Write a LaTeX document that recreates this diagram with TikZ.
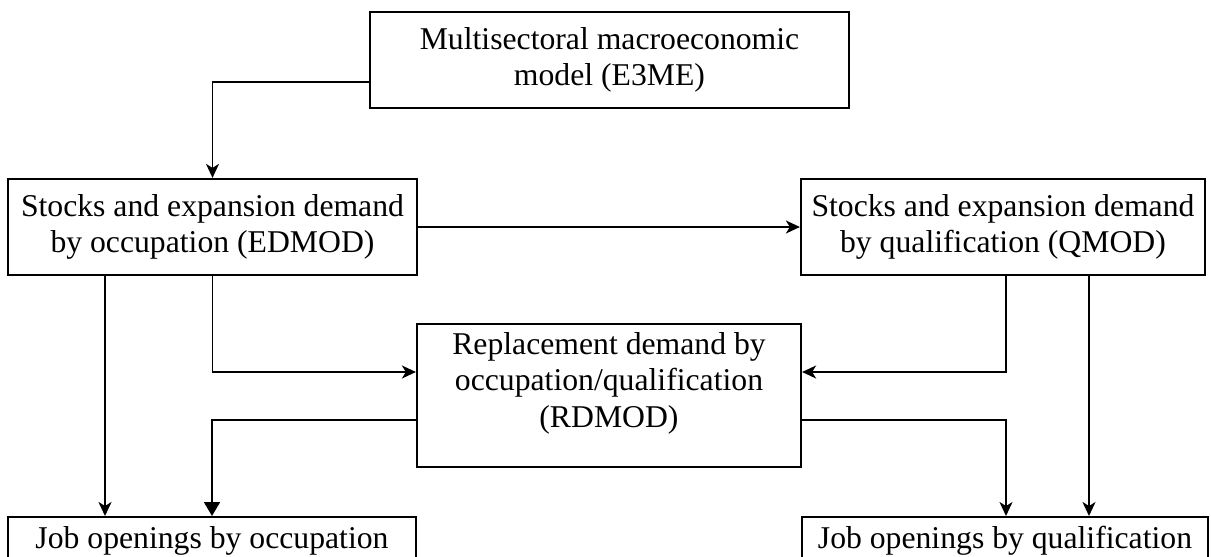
\documentclass[tikz,border=0pt]{standalone}
\usepackage{fontspec}
\setmainfont{Liberation Serif}
\usetikzlibrary{arrows.meta}
\begin{document}
\begin{tikzpicture}[x=1pt,y=-1pt,
  every node/.style={font=\fontsize{31.7}{36.5}\selectfont},
  box/.style={draw, line width=2.2pt, inner sep=0pt, align=center},
  label/.style={inner sep=0pt, align=center},
  link/.style={line width=1.8pt, -{Stealth[length=14pt,width=13pt,inset=4pt]}},
  heavylink/.style={line width=1.8pt, -{Triangle[length=14pt,width=16pt]}}]
\useasboundingbox (0,0) rectangle (1211,557);
\fill[white] (0,0) rectangle (1211,557);
\clip (0,0) rectangle (1211,557);

% model boxes
\node[box, minimum width=479pt, minimum height=96pt] (e3me) at (609.5,60)
  {Multisectoral macroeconomic\\model (E3ME)};
\node[box, minimum width=409pt, minimum height=96pt] (edmod) at (212.5,227)
  {Stocks and expansion demand\\by occupation (EDMOD)};
\node[box, minimum width=404pt, minimum height=96pt] (qmod) at (1003,227)
  {Stocks and expansion demand\\by qualification (QMOD)};
\node[box, minimum width=384pt, minimum height=143pt] (rd) at (609,395.5) {};
\node[label, anchor=base] (rdtext) at (609,427)
  {Replacement demand by\\occupation/qualification\\(RDMOD)};

% output boxes (run past the lower edge)
\node[box, anchor=north, minimum width=408pt, minimum height=90pt] (jo) at (212,516) {};
\node[label, anchor=base] (jotext) at (212,548) {Job openings by occupation};
\node[box, anchor=north, minimum width=406pt, minimum height=90pt] (jq) at (1005,516) {};
\node[label, anchor=base] (jqtext) at (1005,548) {Job openings by qualification};

% connector end points
\coordinate (e3L) at ([yshift=-22pt]e3me.west);
\coordinate (edL) at ([xshift=-107.5pt]edmod.south);
\coordinate (qmL) at ([xshift=3pt]qmod.south);
\coordinate (qmR) at ([xshift=86pt]qmod.south);
\coordinate (rdInL) at ([yshift=23.5pt]rd.west);
\coordinate (rdInR) at ([yshift=23.5pt]rd.east);
\coordinate (rdOutL) at ([yshift=-24.5pt]rd.west);
\coordinate (rdOutR) at ([yshift=-24.5pt]rd.east);

% connectors
\draw[link] (e3L) -| (edmod.north);
\draw[link] (edmod.east) -- (qmod.west);
\draw[link] (edL) -- (edL |- jo.north);
\draw[link] (edmod.south) |- (rdInL);
\draw[link] (qmL) |- (rdInR);
\draw[link] (qmR) -- (qmR |- jq.north);
\draw[heavylink] (rdOutL) -| (jo.north);
\draw[link] (rdOutR) -| (qmL |- jq.north);
\end{tikzpicture}
\end{document}
